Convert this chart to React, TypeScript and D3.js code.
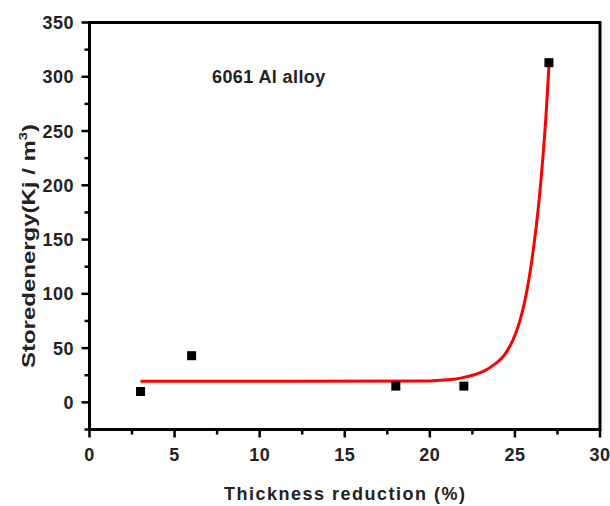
import React from "react";
import * as d3 from "d3";

const pointX = [3, 6, 18, 22, 27];
const pointY = [10, 43, 15, 15, 313];

const fitX = [3, 10, 20, 20.6, 21.5, 22, 22.5, 23.2, 23.8, 24.4, 24.9, 25.25, 25.55, 25.85, 26.1, 26.4, 26.65, 26.85, 27];
const fitY = [19.5, 19.5, 19.7, 20.3, 21.5, 23, 25, 29, 35, 44, 58, 73, 91, 116, 143, 183, 227, 270, 310];

const xTicks = [0, 5, 10, 15, 20, 25, 30];
const xMinor = [2.5, 7.5, 12.5, 17.5, 22.5, 27.5];
const yTicks = [0, 50, 100, 150, 200, 250, 300, 350];
const yMinor = [-25, 25, 75, 125, 175, 225, 275, 325];

const W = 610;
const H = 506;
const L = 89.5, R = 600, T = 22.5, B = 429.5;
const FONT = "'Liberation Sans', Arial, Helvetica, sans-serif";

export default function App() {
  const x = d3.scaleLinear().domain([0, 30]).range([L, R]);
  const y = d3.scaleLinear().domain([-25, 350]).range([B, T]);
  const line = d3
    .line<number>()
    .x((_, i) => x(fitX[i]))
    .y((d) => y(d))
    .curve(d3.curveMonotoneX);
  const fitPath = line(fitY) || "";

  return (
    <svg
      width={W}
      height={H}
      style={{ position: "absolute", left: 0, top: 0, background: "#fff" }}
      fontFamily={FONT}
    >
      <rect x={0} y={0} width={W} height={H} fill="#fff" />
      {/* fit curve */}
      <path d={fitPath} fill="none" stroke="#ff0000" strokeWidth={3} strokeLinejoin="round" />
      {/* points */}
      {pointX.map((px, i) => (
        <rect key={i} x={x(px) - 4.5} y={y(pointY[i]) - 4.5} width={9} height={9} fill="#000" />
      ))}
      {/* frame */}
      <path
        d={`M${L},${B}H${R}V${T}H${L}Z`}
        fill="none"
        stroke="#000"
        strokeWidth={3}
      />
      {/* x ticks */}
      {xTicks.map((t) => (
        <g key={"xt" + t}>
          <line x1={x(t)} x2={x(t)} y1={B} y2={B + 8} stroke="#000" strokeWidth={2.5} />
          <text
            x={x(t)}
            y={461}
            textAnchor="middle"
            fontSize={18}
            fontWeight="bold"
            letterSpacing={0.5}
            fill="#222"
          >
            {t}
          </text>
        </g>
      ))}
      {xMinor.map((t) => (
        <line key={"xm" + t} x1={x(t)} x2={x(t)} y1={B} y2={B + 5} stroke="#000" strokeWidth={2.5} />
      ))}
      {/* y ticks */}
      {yTicks.map((t) => (
        <g key={"yt" + t}>
          <line x1={L - 8} x2={L} y1={y(t)} y2={y(t)} stroke="#000" strokeWidth={2.5} />
          <text
            x={74}
            y={y(t) + 6.5}
            textAnchor="end"
            fontSize={18}
            fontWeight="bold"
            letterSpacing={0.5}
            fill="#222"
          >
            {t}
          </text>
        </g>
      ))}
      {yMinor.map((t) => (
        <line key={"ym" + t} x1={L - 5} x2={L} y1={y(t)} y2={y(t)} stroke="#000" strokeWidth={2.5} />
      ))}
      {/* annotation */}
      <text x={212} y={83} fontSize={18} fontWeight="bold" fill="#222" letterSpacing={0.4}>
        6061 Al alloy
      </text>
      {/* x title */}
      <text
        x={224}
        y={500}
        fontSize={18}
        fontWeight="bold"
        fill="#222"
        textLength={241}
        lengthAdjust="spacing"
      >
        Thickness reduction (%)
      </text>
      {/* y title */}
      <g transform="translate(35,368) rotate(-90)">
        <text x={0} y={0} fontSize={18} fontWeight="bold" fill="#222" textLength={244} lengthAdjust="spacingAndGlyphs">
          Storedenergy(Kj / m
          <tspan dy={-8} fontSize={11}>3</tspan>
          <tspan dy={8}>)</tspan>
        </text>
      </g>
    </svg>
  );
}
